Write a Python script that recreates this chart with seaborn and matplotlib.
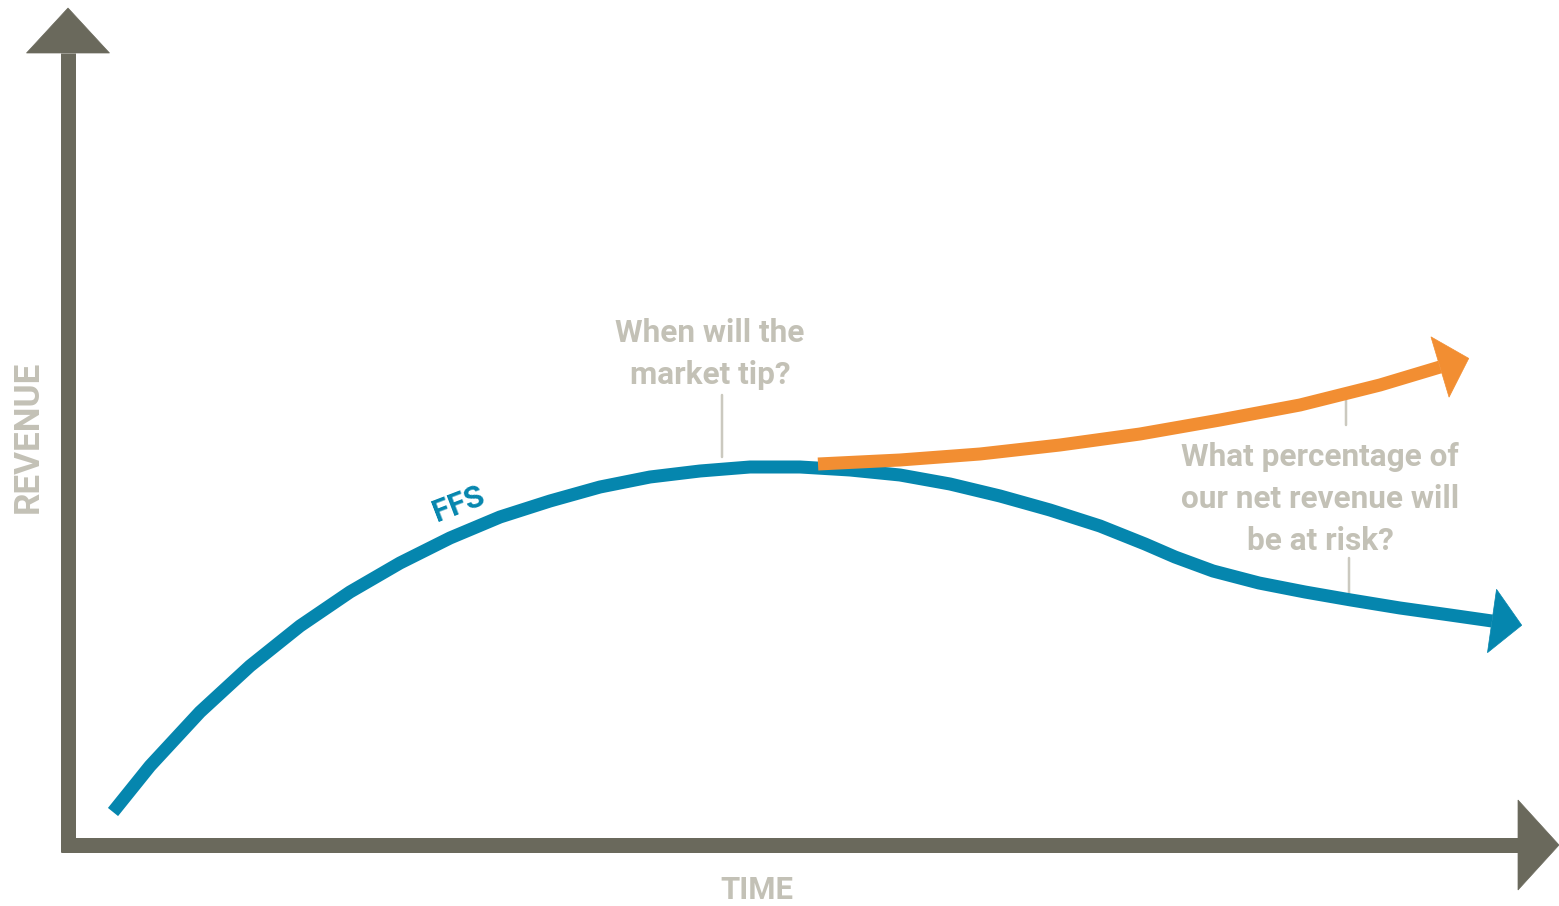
import numpy as np
import pandas as pd
import matplotlib
matplotlib.use("Agg")
import matplotlib.pyplot as plt
from matplotlib.patches import Polygon
import seaborn as sns

# Revenue curve of the fee-for-service business (time, revenue)
ffs_time = [45, 82, 132, 182, 232, 282, 332, 382, 432, 482, 532, 582, 632, 682, 732,
            782, 832, 882, 932, 982, 1032, 1077, 1107, 1145, 1191, 1237, 1283,
            1332, 1382, 1424]
ffs_revenue = [33, 79, 133, 179, 219, 253, 282, 307, 328, 344, 358, 368, 374, 378, 378,
               375, 370, 361, 349, 335, 319, 301, 288, 274, 262, 253, 245,
               237, 230, 224]

# Rising branch after the market tips
new_time = [750, 832, 912, 992, 1072, 1152, 1232, 1312, 1372]
new_revenue = [381, 385, 391, 400, 411, 425, 440, 460, 478]

# Axis extents
time_max = 1491
revenue_max = 837

BLUE = "#0586ae"
ORANGE = "#f28e32"
AXIS = "#6a695c"
LABEL = "#c3c1b6"
LEADER = "#cbc9bf"

sns.set_theme(style="white")
plt.rcParams["font.family"] = ["Roboto", "DejaVu Sans"]

PX = 0.72  # points per pixel at dpi 100

fig = plt.figure(figsize=(15.59, 9.06), dpi=100)
ax = fig.add_axes([0, 0, 1, 1])
ax.set_xlim(-68, 1491)
ax.set_ylim(-61, 845)
ax.axis("off")


def arrow_head(x0, y0, x1, y1, length, half_width, color):
    d = np.array([x1 - x0, y1 - y0], dtype=float)
    d /= np.hypot(*d)
    n = np.array([-d[1], d[0]])
    base = np.array([x1, y1], dtype=float)
    tip = base + d * length
    pts = [tip, base + n * half_width, base - n * half_width]
    ax.add_patch(Polygon(pts, closed=True, facecolor=color, edgecolor=color,
                         linewidth=0.5, zorder=5))


# Axes with arrowheads
ax.plot([0, 0], [-7, revenue_max - 45], color=AXIS, lw=15 * PX,
        solid_capstyle="butt", zorder=2)
ax.plot([-7, time_max - 41], [0, 0], color=AXIS, lw=15 * PX,
        solid_capstyle="butt", zorder=2)
arrow_head(0, 0, 0, revenue_max - 45, 45, 41.5, AXIS)
arrow_head(0, 0, time_max - 41, 0, 41, 45, AXIS)

# Curves
ffs = pd.DataFrame({"time": ffs_time, "revenue": ffs_revenue})
new = pd.DataFrame({"time": new_time, "revenue": new_revenue})
sns.lineplot(data=ffs, x="time", y="revenue", sort=False, color=BLUE,
             lw=13 * PX, ax=ax, zorder=3)
sns.lineplot(data=new, x="time", y="revenue", sort=False, color=ORANGE,
             lw=13 * PX, ax=ax, zorder=4)
for line in ax.lines[-2:]:
    line.set_solid_capstyle("butt")
    line.set_solid_joinstyle("round")
arrow_head(ffs_time[-2], ffs_revenue[-2], ffs_time[-1], ffs_revenue[-1], 30, 32, BLUE)
arrow_head(new_time[-2], new_revenue[-2], new_time[-1], new_revenue[-1], 30, 31.5, ORANGE)
ax.set_xlabel("")
ax.set_ylabel("")

# Leader lines
ax.plot([654, 654], [388, 450], color=LEADER, lw=2.5 * PX, zorder=1)
ax.plot([1278, 1278], [420, 450], color=LEADER, lw=2.5 * PX, zorder=1)
ax.plot([1281, 1281], [250, 287], color=LEADER, lw=2.5 * PX, zorder=1)

# Annotations
ax.text(642, 491, "When will the\nmarket tip?", ha="center", va="center",
        fontsize=31.5 * PX, fontweight="bold", color=LABEL, linespacing=1.5)
ax.text(1252, 346, "What percentage of\nour net revenue will\nbe at risk?",
        ha="center", va="center", fontsize=31.5 * PX, fontweight="bold",
        color=LABEL, linespacing=1.5)
ax.text(391, 341, "FFS", ha="center", va="center", rotation=21,
        fontsize=31 * PX, fontweight="bold", color=BLUE)
ax.text(-40, 408, "REVENUE", ha="center", va="center", rotation=90,
        fontsize=35 * PX, fontweight="bold", color=LABEL)
ax.text(689, -45, "TIME", ha="center", va="center",
        fontsize=31 * PX, fontweight="bold", color=LABEL)

fig.savefig("out.png", dpi=100, facecolor="white")
